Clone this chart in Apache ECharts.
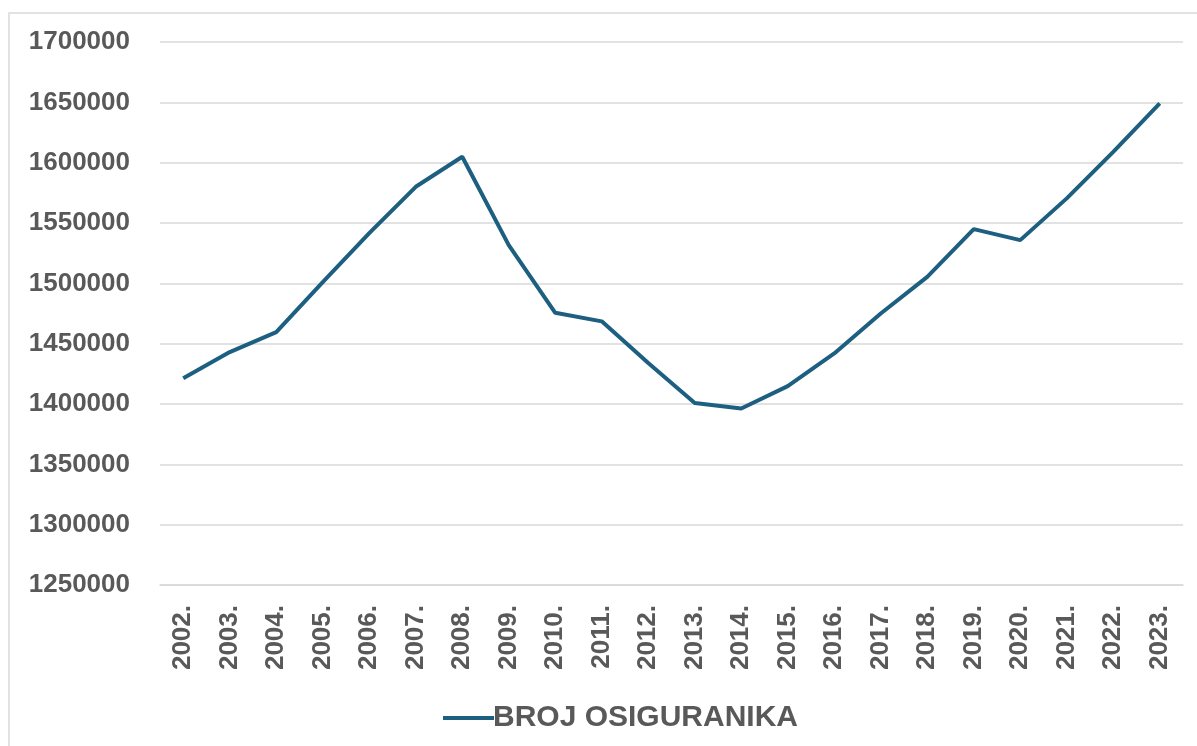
<!DOCTYPE html>
<html>
<head>
<meta charset="utf-8">
<script src="https://cdn.jsdelivr.net/npm/echarts@6/dist/echarts.min.js"></script>
<style>
  html, body { margin: 0; padding: 0; background: #fff; }
  #chart { width: 1197px; height: 746px; }
</style>
</head>
<body>
<div id="chart"></div>
<script>
  // godine i broj osiguranika
  const years = ['2002.', '2003.', '2004.', '2005.', '2006.', '2007.', '2008.', '2009.', '2010.', '2011.', '2012.',
    '2013.', '2014.', '2015.', '2016.', '2017.', '2018.', '2019.', '2020.', '2021.', '2022.', '2023.'];
  const insured = [1421400, 1443000, 1459500, 1501000, 1541600, 1580000, 1604900, 1531700, 1475600, 1468500, 1434000,
    1400900, 1396300, 1414800, 1441900, 1475000, 1505400, 1544900, 1535800, 1570400, 1609000, 1649200];
  const seriesName = 'BROJ OSIGURANIKA';

  const textColor = '#595959';
  const gridColor = '#d9d9d9';
  const lineColor = '#1d5f80';
  const font = '"Liberation Sans", Arial, sans-serif';

  const chart = echarts.init(document.getElementById('chart'));
  chart.setOption({
    animation: false,
    graphic: [{
      type: 'rect',
      shape: { x: 9, y: 13, width: 1220, height: 800 },
      style: { fill: 'none', stroke: gridColor, lineWidth: 1.5 },
      silent: true
    }],
    legend: {
      left: 438,
      top: 698,
      itemWidth: 51,
      itemHeight: 14,
      itemGap: 10,
      icon: 'path://M0,5 L51,5 L51,9 L0,9 Z',
      textStyle: { color: textColor, fontSize: 30, fontWeight: 'bold', fontFamily: font, padding: [0, 0, 0, -6] },
      data: [seriesName]
    },
    grid: {
      left: 160,
      right: 14,
      top: 42,
      bottom: 161,
      containLabel: false
    },
    xAxis: {
      type: 'category',
      data: years,
      boundaryGap: true,
      axisLine: { show: true, lineStyle: { color: gridColor, width: 1.5 } },
      axisTick: { show: false },
      axisLabel: {
        rotate: 90,
        margin: 20,
        color: textColor,
        fontSize: 26,
        fontWeight: 'bold',
        fontFamily: font,
        interval: 0
      }
    },
    yAxis: {
      type: 'value',
      min: 1250000,
      max: 1700000,
      interval: 50000,
      axisLine: { show: false },
      axisTick: { show: false },
      splitLine: { lineStyle: { color: gridColor, width: 1.5 } },
      axisLabel: {
        margin: 30,
        color: textColor,
        fontSize: 26,
        fontWeight: 'bold',
        fontFamily: font,
        formatter: v => String(v)
      }
    },
    series: [{
      name: seriesName,
      type: 'line',
      data: insured,
      symbol: 'none',
      color: lineColor,
      lineStyle: { color: lineColor, width: 4 }
    }]
  });
</script>
</body>
</html>
